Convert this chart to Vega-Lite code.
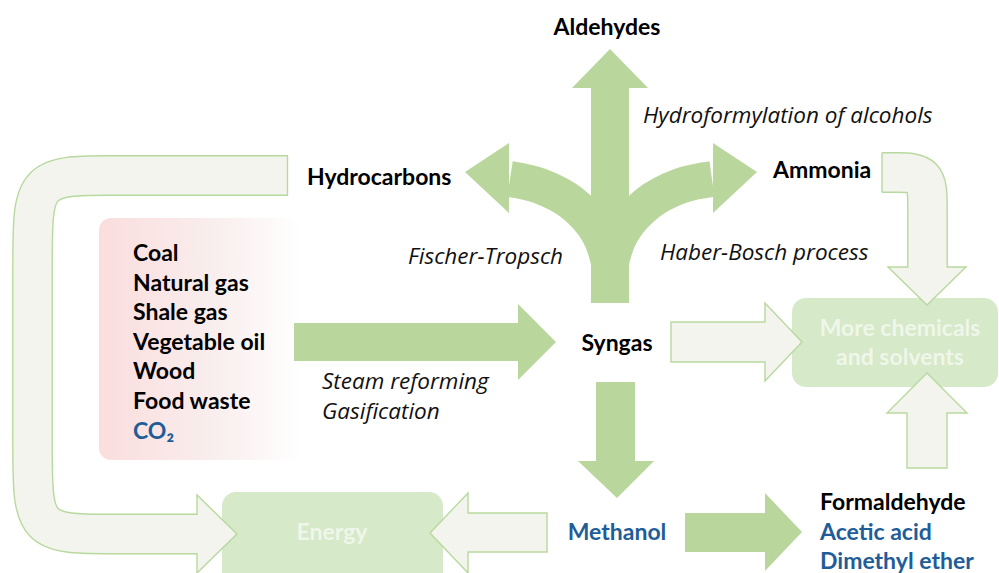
{
  "$schema": "https://vega.github.io/schema/vega-lite/v6.json",
  "width": 999,
  "height": 573,
  "autosize": {"type": "none"},
  "padding": 0,
  "background": "#ffffff",
  "config": {"view": {"stroke": null}, "axis": {"disable": true}, "font": "Lato"},
  "datasets": {
    "boxes": [
      {"name": "feedstock", "x": 99, "x2": 302, "y": 218, "y2": 460},
      {"name": "Energy", "x": 222, "x2": 443, "y": 492, "y2": 600},
      {"name": "More", "x": 792, "x2": 998, "y": 298, "y2": 387}
    ],
    "outlineShafts": [
      {"id": "loop", "i": 0, "x": 288, "y": 175.5},
      {"id": "loop", "i": 1, "x": 200, "y": 175.5},
      {"id": "loop", "i": 2, "x": 102, "y": 175.5},
      {"id": "loop", "i": 3, "x": 32.5, "y": 175.5},
      {"id": "loop", "i": 4, "x": 32.5, "y": 245},
      {"id": "loop", "i": 5, "x": 32.5, "y": 464},
      {"id": "loop", "i": 6, "x": 32.5, "y": 534},
      {"id": "loop", "i": 7, "x": 102, "y": 534},
      {"id": "loop", "i": 8, "x": 199, "y": 534},
      {"id": "amm", "i": 0, "x": 882, "y": 172.5},
      {"id": "amm", "i": 1, "x": 895, "y": 172.5},
      {"id": "amm", "i": 2, "x": 927.5, "y": 172.5},
      {"id": "amm", "i": 3, "x": 927.5, "y": 205},
      {"id": "amm", "i": 4, "x": 927.5, "y": 269}
    ],
    "outlineEnds": [
      {"x": 287.5, "y": 156, "y2": 195},
      {"x": 882, "y": 153, "y2": 192}
    ],
    "faintV": [
      {"id": "loopHead", "x": 197, "y": 495, "y2": 573},
      {"id": "loopHead", "x": 237, "y": 534, "y2": 534},
      {"id": "synMore", "x": 671, "y": 322, "y2": 362},
      {"id": "synMore", "x": 765, "y": 322, "y2": 362},
      {"id": "synMore", "x": 765.01, "y": 303, "y2": 381},
      {"id": "synMore", "x": 802, "y": 342, "y2": 342},
      {"id": "methEnergy", "x": 430, "y": 533, "y2": 533},
      {"id": "methEnergy", "x": 468, "y": 493, "y2": 573},
      {"id": "methEnergy", "x": 468.01, "y": 513, "y2": 552},
      {"id": "methEnergy", "x": 547, "y": 513, "y2": 552}
    ],
    "faintH": [
      {"id": "ammHead", "y": 267, "x": 888, "x2": 966},
      {"id": "ammHead", "y": 305, "x": 927, "x2": 927},
      {"id": "upMore", "y": 373, "x": 927, "x2": 927},
      {"id": "upMore", "y": 413, "x": 887, "x2": 967},
      {"id": "upMore", "y": 413.01, "x": 907, "x2": 947},
      {"id": "upMore", "y": 468, "x": 907, "x2": 947}
    ],
    "solidV": [
      {"id": "main", "x": 294, "y": 323, "y2": 361},
      {"id": "main", "x": 518, "y": 323, "y2": 361},
      {"id": "main", "x": 518.01, "y": 304, "y2": 380},
      {"id": "main", "x": 556, "y": 342, "y2": 342},
      {"id": "methForm", "x": 685, "y": 513, "y2": 552},
      {"id": "methForm", "x": 765, "y": 513, "y2": 552},
      {"id": "methForm", "x": 765.01, "y": 493, "y2": 571},
      {"id": "methForm", "x": 802, "y": 532, "y2": 532},
      {"id": "leftHead", "x": 465, "y": 172, "y2": 172},
      {"id": "leftHead", "x": 509, "y": 143, "y2": 213},
      {"id": "rightHead", "x": 713, "y": 143, "y2": 213},
      {"id": "rightHead", "x": 757, "y": 172, "y2": 172}
    ],
    "solidH": [
      {"id": "stemUp", "y": 49, "x": 610, "x2": 610},
      {"id": "stemUp", "y": 88, "x": 572, "x2": 648},
      {"id": "stemUp", "y": 88.01, "x": 591, "x2": 629},
      {"id": "stemUp", "y": 303, "x": 591, "x2": 629},
      {"id": "down", "y": 382, "x": 596, "x2": 635},
      {"id": "down", "y": 461, "x": 596, "x2": 635},
      {"id": "down", "y": 461.01, "x": 578, "x2": 654},
      {"id": "down", "y": 498, "x": 617, "x2": 617}
    ],
    "branches": [
      {"id": "left", "i": 0, "x": 610, "y": 300},
      {"id": "left", "i": 1, "x": 610, "y": 268},
      {"id": "left", "i": 2, "x": 598, "y": 232},
      {"id": "left", "i": 3, "x": 572, "y": 203},
      {"id": "left", "i": 4, "x": 540, "y": 186},
      {"id": "left", "i": 5, "x": 510, "y": 179},
      {"id": "right", "i": 0, "x": 610, "y": 300},
      {"id": "right", "i": 1, "x": 610, "y": 268},
      {"id": "right", "i": 2, "x": 622, "y": 232},
      {"id": "right", "i": 3, "x": 648, "y": 203},
      {"id": "right", "i": 4, "x": 680, "y": 186},
      {"id": "right", "i": 5, "x": 712, "y": 179}
    ],
    "labels": [
      {"label": "Coal", "x": 133, "y": 254, "kind": "boldLeft"},
      {"label": "Natural gas", "x": 133, "y": 284, "kind": "boldLeft"},
      {"label": "Shale gas", "x": 133, "y": 313, "kind": "boldLeft"},
      {"label": "Vegetable oil", "x": 133, "y": 343, "kind": "boldLeft"},
      {"label": "Wood", "x": 133, "y": 372, "kind": "boldLeft"},
      {"label": "Food waste", "x": 133, "y": 402, "kind": "boldLeft"},
      {"label": "CO₂", "x": 133, "y": 432, "kind": "blueLeft"},
      {"label": "Hydrocarbons", "x": 307, "y": 178, "kind": "boldLeft"},
      {"label": "Ammonia", "x": 773, "y": 171, "kind": "boldLeft"},
      {"label": "Formaldehyde", "x": 820, "y": 503, "kind": "boldLeft"},
      {"label": "Acetic acid", "x": 820, "y": 533, "kind": "blueLeft"},
      {"label": "Dimethyl ether", "x": 820, "y": 562, "kind": "blueLeft"},
      {"label": "Aldehydes", "x": 607, "y": 28, "kind": "boldCenter"},
      {"label": "Syngas", "x": 617, "y": 344, "kind": "boldCenter"},
      {"label": "Methanol", "x": 617, "y": 533, "kind": "blueCenter"},
      {"label": "Hydroformylation of alcohols", "x": 643, "y": 116, "kind": "italic"},
      {"label": "Fischer-Tropsch", "x": 408, "y": 257, "kind": "italic"},
      {"label": "Haber-Bosch process", "x": 660, "y": 253, "kind": "italic"},
      {"label": "Steam reforming", "x": 322, "y": 382, "kind": "italic"},
      {"label": "Gasification", "x": 322, "y": 412, "kind": "italic"},
      {"label": "Energy", "x": 332, "y": 533, "kind": "white"},
      {"label": "More chemicals", "x": 900, "y": 329, "kind": "white"},
      {"label": "and solvents", "x": 900, "y": 358, "kind": "white"}
    ]
  },
  "layer": [
    {
      "data": {"name": "boxes"},
      "transform": [{"filter": "datum.name === 'feedstock'"}],
      "mark": {"type": "rect", "cornerRadius": 12, "color": {"gradient": "linear", "x1": 0, "y1": 0, "x2": 1, "y2": 0, "stops": [{"offset": 0, "color": "#fbdddd"}, {"offset": 0.55, "color": "#f9eded"}, {"offset": 1, "color": "#ffffff"}]}},
      "encoding": {
        "x": {"field": "x", "type": "quantitative", "scale": {"domain": [0, 999], "nice": false, "zero": false}, "axis": null},
        "x2": {"field": "x2"},
        "y": {"field": "y", "type": "quantitative", "scale": {"domain": [0, 573], "nice": false, "zero": false, "reverse": true}, "axis": null},
        "y2": {"field": "y2"}
      }
    },
    {
      "data": {"name": "boxes"},
      "transform": [{"filter": "datum.name !== 'feedstock'"}],
      "mark": {"type": "rect", "cornerRadius": 14, "color": "#d6e9c8", "clip": true},
      "encoding": {
        "x": {"field": "x", "type": "quantitative"},
        "x2": {"field": "x2"},
        "y": {"field": "y", "type": "quantitative"},
        "y2": {"field": "y2"}
      }
    },
    {
      "data": {"name": "outlineShafts"},
      "mark": {"type": "line", "stroke": "#b8d99e", "strokeWidth": 40.8, "strokeCap": "butt", "interpolate": "basis"},
      "encoding": {
        "x": {"field": "x", "type": "quantitative"},
        "y": {"field": "y", "type": "quantitative"},
        "detail": {"field": "id"},
        "order": {"field": "i", "type": "quantitative"}
      }
    },
    {
      "data": {"name": "faintV"},
      "mark": {"type": "area", "orient": "vertical", "fill": "#f3f4ee", "stroke": "#b8d99e", "strokeWidth": 1.4, "strokeJoin": "miter"},
      "encoding": {
        "x": {"field": "x", "type": "quantitative"},
        "y": {"field": "y", "type": "quantitative", "stack": null},
        "y2": {"field": "y2"},
        "detail": {"field": "id"}
      }
    },
    {
      "data": {"name": "faintH"},
      "mark": {"type": "area", "orient": "horizontal", "fill": "#f3f4ee", "stroke": "#b8d99e", "strokeWidth": 1.4, "strokeJoin": "miter"},
      "encoding": {
        "y": {"field": "y", "type": "quantitative"},
        "x": {"field": "x", "type": "quantitative", "stack": null},
        "x2": {"field": "x2"},
        "detail": {"field": "id"}
      }
    },
    {
      "data": {"name": "outlineShafts"},
      "mark": {"type": "line", "stroke": "#f3f4ee", "strokeWidth": 38, "strokeCap": "butt", "interpolate": "basis"},
      "encoding": {
        "x": {"field": "x", "type": "quantitative"},
        "y": {"field": "y", "type": "quantitative"},
        "detail": {"field": "id"},
        "order": {"field": "i", "type": "quantitative"}
      }
    },
    {
      "data": {"name": "outlineEnds"},
      "mark": {"type": "rule", "stroke": "#b8d99e", "strokeWidth": 1.4},
      "encoding": {
        "x": {"field": "x", "type": "quantitative"},
        "y": {"field": "y", "type": "quantitative"},
        "y2": {"field": "y2"}
      }
    },
    {
      "data": {"name": "solidV"},
      "mark": {"type": "area", "orient": "vertical", "color": "#b9d79c"},
      "encoding": {
        "x": {"field": "x", "type": "quantitative"},
        "y": {"field": "y", "type": "quantitative", "stack": null},
        "y2": {"field": "y2"},
        "detail": {"field": "id"}
      }
    },
    {
      "data": {"name": "solidH"},
      "mark": {"type": "area", "orient": "horizontal", "color": "#b9d79c"},
      "encoding": {
        "y": {"field": "y", "type": "quantitative"},
        "x": {"field": "x", "type": "quantitative", "stack": null},
        "x2": {"field": "x2"},
        "detail": {"field": "id"}
      }
    },
    {
      "data": {"name": "branches"},
      "mark": {"type": "line", "stroke": "#b9d79c", "strokeWidth": 36, "strokeCap": "butt", "interpolate": "cardinal"},
      "encoding": {
        "x": {"field": "x", "type": "quantitative"},
        "y": {"field": "y", "type": "quantitative"},
        "detail": {"field": "id"},
        "order": {"field": "i", "type": "quantitative"}
      }
    },
    {
      "data": {"name": "labels"},
      "transform": [{"filter": "datum.kind === 'boldLeft'"}],
      "mark": {"type": "text", "align": "left", "baseline": "middle", "fontSize": 23, "fontWeight": "bold", "color": "#000000"},
      "encoding": {
        "x": {"field": "x", "type": "quantitative"},
        "y": {"field": "y", "type": "quantitative"},
        "text": {"field": "label"}
      }
    },
    {
      "data": {"name": "labels"},
      "transform": [{"filter": "datum.kind === 'blueLeft'"}],
      "mark": {"type": "text", "align": "left", "baseline": "middle", "fontSize": 23, "fontWeight": "bold", "color": "#1f5d99"},
      "encoding": {
        "x": {"field": "x", "type": "quantitative"},
        "y": {"field": "y", "type": "quantitative"},
        "text": {"field": "label"}
      }
    },
    {
      "data": {"name": "labels"},
      "transform": [{"filter": "datum.kind === 'boldCenter'"}],
      "mark": {"type": "text", "align": "center", "baseline": "middle", "fontSize": 23, "fontWeight": "bold", "color": "#000000"},
      "encoding": {
        "x": {"field": "x", "type": "quantitative"},
        "y": {"field": "y", "type": "quantitative"},
        "text": {"field": "label"}
      }
    },
    {
      "data": {"name": "labels"},
      "transform": [{"filter": "datum.kind === 'blueCenter'"}],
      "mark": {"type": "text", "align": "center", "baseline": "middle", "fontSize": 23, "fontWeight": "bold", "color": "#1f5d99"},
      "encoding": {
        "x": {"field": "x", "type": "quantitative"},
        "y": {"field": "y", "type": "quantitative"},
        "text": {"field": "label"}
      }
    },
    {
      "data": {"name": "labels"},
      "transform": [{"filter": "datum.kind === 'italic'"}],
      "mark": {"type": "text", "align": "left", "baseline": "middle", "font": "Open Sans", "fontSize": 22.5, "fontStyle": "italic", "color": "#111111"},
      "encoding": {
        "x": {"field": "x", "type": "quantitative"},
        "y": {"field": "y", "type": "quantitative"},
        "text": {"field": "label"}
      }
    },
    {
      "data": {"name": "labels"},
      "transform": [{"filter": "datum.kind === 'white'"}],
      "mark": {"type": "text", "align": "center", "baseline": "middle", "fontSize": 23, "fontWeight": "bold", "color": "#eff6ea"},
      "encoding": {
        "x": {"field": "x", "type": "quantitative"},
        "y": {"field": "y", "type": "quantitative"},
        "text": {"field": "label"}
      }
    }
  ]
}
